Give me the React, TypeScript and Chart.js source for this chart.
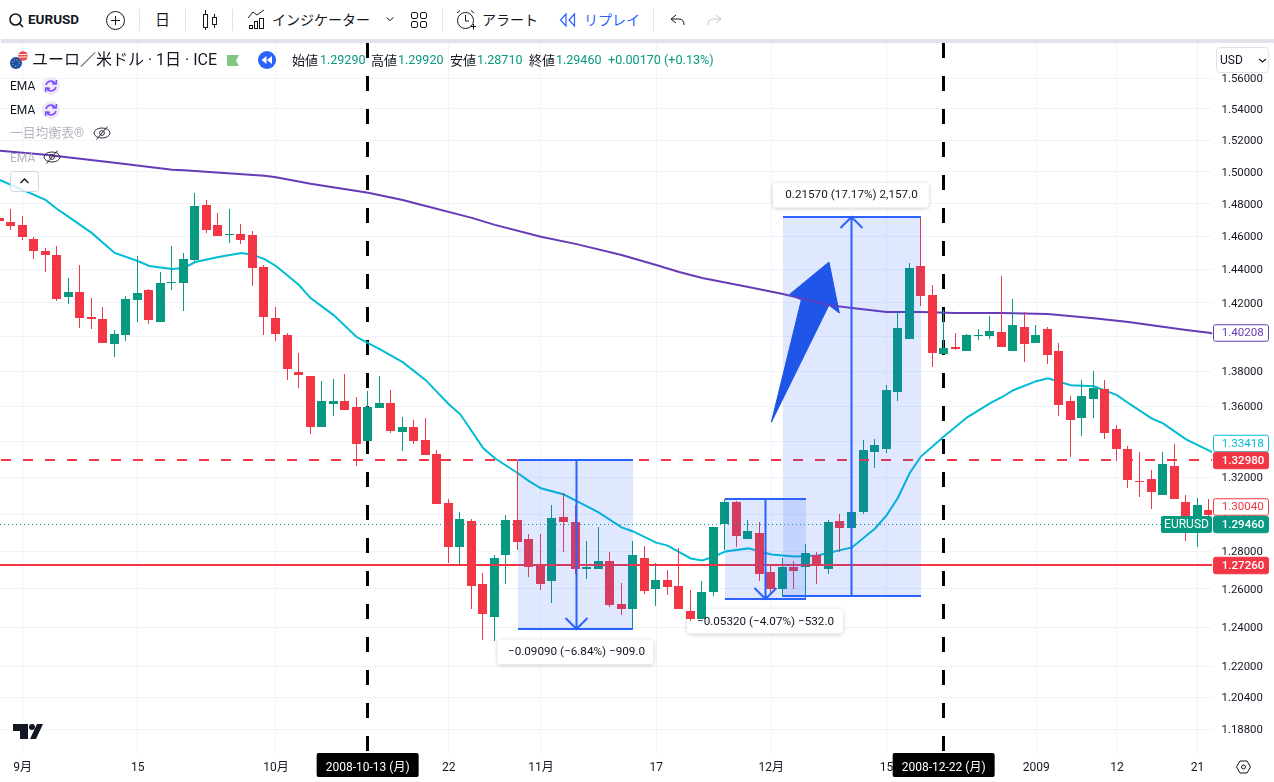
import React, { useEffect, useRef } from "react";
import { Chart, registerables } from "chart.js";

Chart.register(...registerables);

// ---------- data ----------
const opens = [1.4714,1.4689,1.4671,1.4585,1.4512,1.4488,1.4235,1.4265,1.4116,1.4104,1.3958,1.4010,1.4217,1.4277,1.4087,1.4319,1.4319,1.4457,1.4794,1.4671,1.4610,1.4616,1.4610,1.4415,1.4110,1.4010,1.3795,1.3772,1.3481,1.3611,1.3628,1.3594,1.3402,1.3588,1.3617,1.3452,1.3481,1.3407,1.3329,1.3058,1.2820,1.2960,1.2623,1.2455,1.2777,1.2966,1.2863,1.2723,1.2639,1.2982,1.2955,1.2707,1.2707,1.2745,1.2522,1.2496,1.2766,1.2601,1.2649,1.2617,1.2486,1.2444,1.2581,1.2949,1.3064,1.2868,1.2900,1.2691,1.2601,1.2713,1.2713,1.2777,1.2707,1.2960,1.2922,1.3014,1.3340,1.3357,1.3680,1.3987,1.4421,1.4247,1.3899,1.3940,1.3917,1.4005,1.4005,1.4028,1.3917,1.4058,1.3964,1.4046,1.3917,1.3628,1.3531,1.3640,1.3697,1.3469,1.3357,1.3179,1.3190,1.3102,1.3262,1.3064,1.2982,1.3020];
const highs = [1.4720,1.4769,1.4726,1.4598,1.4530,1.4542,1.4349,1.4427,1.4229,1.4175,1.4040,1.4241,1.4482,1.4283,1.4385,1.4542,1.4500,1.4869,1.4825,1.4745,1.4769,1.4677,1.4634,1.4427,1.4175,1.4022,1.3905,1.3772,1.3743,1.3754,1.3783,1.3651,1.3686,1.3772,1.3691,1.3537,1.3520,1.3531,1.3351,1.3080,1.3009,1.2976,1.2686,1.2777,1.2993,1.3296,1.2895,1.2895,1.3047,1.3113,1.3047,1.2852,1.2928,1.2798,1.2633,1.2857,1.2830,1.2739,1.2702,1.2815,1.2596,1.2639,1.2928,1.3080,1.3069,1.2966,1.2955,1.2723,1.2766,1.2750,1.2841,1.2798,1.2966,1.2998,1.3064,1.3407,1.3413,1.3720,1.4146,1.4439,1.4720,1.4307,1.4158,1.4022,1.4016,1.4046,1.4122,1.4361,1.4223,1.4146,1.4069,1.4058,1.3964,1.3657,1.3749,1.3800,1.3749,1.3492,1.3374,1.3340,1.3240,1.3340,1.3385,1.3102,1.3086,1.3080];
const lows = [1.4690,1.4640,1.4579,1.4463,1.4385,1.4211,1.4193,1.4052,1.4046,1.3962,1.3882,1.3975,1.4087,1.4075,1.4087,1.4277,1.4152,1.4451,1.4622,1.4604,1.4561,1.4555,1.4301,1.4010,1.3975,1.3749,1.3703,1.3441,1.3481,1.3543,1.3577,1.3262,1.3402,1.3588,1.3447,1.3346,1.3385,1.3323,1.3053,1.2739,1.2729,1.2496,1.2335,1.2330,1.2628,1.2804,1.2665,1.2596,1.2528,1.2793,1.2681,1.2654,1.2707,1.2507,1.2465,1.2387,1.2575,1.2512,1.2570,1.2496,1.2434,1.2444,1.2565,1.2804,1.2820,1.2863,1.2644,1.2580,1.2559,1.2601,1.2549,1.2628,1.2681,1.2798,1.2922,1.2998,1.3251,1.3335,1.3628,1.3987,1.4181,1.3824,1.3899,1.3923,1.3917,1.3981,1.3987,1.3940,1.3917,1.3853,1.3964,1.3841,1.3543,1.3312,1.3430,1.3531,1.3413,1.3290,1.3141,1.3091,1.3026,1.3102,1.3080,1.2857,1.2825,1.2933];
const closes = [1.4696,1.4665,1.4598,1.4512,1.4488,1.4223,1.4265,1.4110,1.4104,1.3964,1.4016,1.4223,1.4259,1.4099,1.4319,1.4325,1.4463,1.4788,1.4640,1.4604,1.4616,1.4579,1.4409,1.4116,1.4016,1.3812,1.3777,1.3481,1.3628,1.3628,1.3577,1.3385,1.3594,1.3617,1.3458,1.3481,1.3402,1.3323,1.3053,1.2825,1.2971,1.2617,1.2470,1.2766,1.2966,1.2847,1.2718,1.2628,1.2977,1.2955,1.2707,1.2718,1.2750,1.2517,1.2496,1.2782,1.2591,1.2649,1.2612,1.2496,1.2444,1.2586,1.2928,1.3064,1.2879,1.2906,1.2681,1.2601,1.2713,1.2697,1.2788,1.2723,1.2955,1.2922,1.3014,1.3351,1.3379,1.3691,1.4052,1.4409,1.4241,1.3905,1.3934,1.3928,1.4010,1.4010,1.4034,1.3940,1.4069,1.3958,1.4010,1.3894,1.3605,1.3520,1.3657,1.3703,1.3447,1.3357,1.3185,1.3174,1.3119,1.3273,1.3080,1.2966,1.3047,1.2993];

const fastEmaBars = [0,4,5,6,8,10,12,13,15,16,17,19,21,22,23,24,26,27,29,31,32,33,35,37,39,40,42,43,45,46,47,49,51,52,54,55,57,58,60,61,62,63,65,67,69,71,74,76,77,78,79,80,82,84,86,87,88,90,91,93,95,97,98,100,101,103,105,106];
const fastEmaValues = [1.4950,1.4825,1.4769,1.4720,1.4622,1.4500,1.4451,1.4421,1.4403,1.4409,1.4445,1.4475,1.4500,1.4488,1.4463,1.4421,1.4307,1.4229,1.4128,1.3999,1.3964,1.3929,1.3853,1.3749,1.3611,1.3554,1.3363,1.3307,1.3224,1.3179,1.3141,1.3107,1.3042,1.3009,1.2928,1.2906,1.2846,1.2830,1.2761,1.2750,1.2771,1.2798,1.2815,1.2782,1.2771,1.2777,1.2820,1.2922,1.2993,1.3091,1.3224,1.3318,1.3430,1.3537,1.3617,1.3651,1.3691,1.3743,1.3760,1.3720,1.3714,1.3663,1.3617,1.3531,1.3503,1.3413,1.3350,1.3315];
const slowEmaBars = [0,4,10,15,16,23,24,27,32,35,37,41,43,47,50,54,57,59,61,65,68,72,74,77,80,83,87,91,95,98,103,105,106];
const slowEmaValues = [1.5133,1.5107,1.5057,1.5013,1.5010,1.4975,1.4966,1.4925,1.4869,1.4825,1.4788,1.4714,1.4671,1.4598,1.4555,1.4488,1.4427,1.4385,1.4349,1.4295,1.4253,1.4187,1.4170,1.4146,1.4146,1.4140,1.4140,1.4134,1.4110,1.4087,1.4040,1.4024,1.4010];

const yTickValues = [1.56,1.54,1.52,1.5,1.48,1.46,1.44,1.42,1.4,1.38,1.36,1.34,1.32,1.3,1.28,1.26,1.24,1.22,1.204,1.188];
const xTickBars = [2,12,24,39,47,57,67,77,90,97,104];
const xTickLabels = ["9月","15","10月","22","11月","17","12月","15","2009","12","21"];

const markedBars = [32,82];
const markedLabels = ["2008-10-13 (月)","2008-12-22 (月)"];

const dashedPrice = 1.3298;
const solidPrice = 1.2726;
const lastPrice = 1.2946;

const measureStart = [45,63,68];
const measureEnd = [55,70,80];
const measureArrowBar = [50,66.45,73.9];
const measureFrom = [1.3298,1.3081,1.2563];
const measureTo = [1.2389,1.2549,1.4720];
const measureLabels = ["−0.09090 (−6.84%) −909.0","−0.05320 (−4.07%) −532.0","0.21570 (17.17%) 2,157.0"];

const bigArrowBars = [72.0,68.6,69.6,67.0,72.0,72.9];
const bigArrowPrices = [1.4445,1.4252,1.4217,1.3509,1.4187,1.4140];

const tagPrices = [1.40208,1.33418,1.3298,1.3004,1.2946,1.2726];

// ---------- styling ----------
const FONT = 'Roboto, "Noto Sans CJK JP", sans-serif';
const UP = "#089981";
const DOWN = "#f23645";
const BLUE = "#2962ff";
const TEXT = "#131722";
const GRID = "#f0f3fa";
const X_MIN = 0.0434, X_MAX = 105.25, Y_MIN = 1.17642, Y_MAX = 1.58304;

const tagStyles = [
  { fill: "#ffffff", stroke: "#673ab7", color: "#673ab7", shift: 0 },
  { fill: "#ffffff", stroke: "#00bcd4", color: "#00bcd4", shift: -8.5 },
  { fill: DOWN, stroke: DOWN, color: "#ffffff", shift: 0.5 },
  { fill: "#ffffff", stroke: DOWN, color: DOWN, shift: -6 },
  { fill: UP, stroke: UP, color: "#ffffff", shift: 0.5 },
  { fill: DOWN, stroke: DOWN, color: "#ffffff", shift: 0.5 },
];

function snapPlugin() {
  return {
    id: "snap",
    afterDatasetsUpdate(chart: any) {
      chart.data.datasets.forEach((ds: any, di: number) => {
        const meta = chart.getDatasetMeta(di);
        meta.data.forEach((el: any) => {
          if (ds.snapKind === "bar") {
            el.x = Math.floor(el.x - 0.5) + 0.5;
            el.y = Math.round(el.y);
            el.base = Math.round(el.base);
            if (el.y === el.base) el.base = el.y + 1;
          } else if (ds.snapKind === "v") {
            el.x = Math.floor(el.x) - 0.5;
          } else if (ds.snapKind === "h2") {
            el.x = Math.round(el.x);
            el.y = Math.round(el.y + 0.1);
          } else if (ds.snapKind === "h1") {
            el.x = Math.round(el.x);
            el.y = Math.floor(el.y) + 0.5;
          }
        });
      });
    },
  };
}

function roundBox(ctx: CanvasRenderingContext2D, x: number, y: number, w: number, h: number, r: number) {
  ctx.beginPath();
  ctx.roundRect(x, y, w, h, r);
}

const drawingsPlugin = {
  id: "drawings",
  beforeDatasetsDraw(chart: any) {
    const { ctx, scales } = chart;
    const sx = scales.x, sy = scales.y;
    ctx.save();
    // measurement label boxes (they lie under the candles)
    measureLabels.forEach((_, i) => {
      const cx = sx.getPixelForValue(measureArrowBar[i]);
      const up = measureTo[i] > measureFrom[i];
      const edge = sy.getPixelForValue(measureTo[i]);
      const top = up ? edge - 34 : edge + 10.5;
      ctx.save();
      ctx.shadowColor = "rgba(19,23,34,0.22)";
      ctx.shadowBlur = 4;
      ctx.shadowOffsetY = 1;
      ctx.fillStyle = "#ffffff";
      roundBox(ctx, cx - 78, top, 156, 24.5, 4);
      ctx.fill();
      ctx.restore();
    });
    // big hand-drawn arrow
    ctx.fillStyle = "#1e53e5";
    ctx.beginPath();
    bigArrowBars.forEach((b, i) => {
      const px = sx.getPixelForValue(b), py = sy.getPixelForValue(bigArrowPrices[i]);
      if (i === 0) ctx.moveTo(px, py); else ctx.lineTo(px, py);
    });
    ctx.closePath();
    ctx.fill();
    ctx.lineJoin = "round";
    ctx.strokeStyle = "#1e53e5";
    ctx.lineWidth = 1;
    ctx.stroke();
    ctx.restore();
  },
  afterDatasetsDraw(chart: any) {
    const { ctx, scales, chartArea } = chart;
    const sx = scales.x, sy = scales.y;
    ctx.save();
    ctx.beginPath();
    ctx.rect(chartArea.left, chartArea.top, chartArea.right - chartArea.left, chartArea.bottom - chartArea.top);
    ctx.clip();
    measureLabels.forEach((label, i) => {
      const x0 = Math.round(sx.getPixelForValue(measureStart[i]));
      const x1 = Math.round(sx.getPixelForValue(measureEnd[i]));
      const cx = Math.round(sx.getPixelForValue(measureArrowBar[i])) + 0.5;
      const yFrom = Math.round(sy.getPixelForValue(measureFrom[i]));
      const yTo = Math.round(sy.getPixelForValue(measureTo[i]));
      ctx.fillStyle = "rgba(41,98,255,0.15)";
      ctx.fillRect(x0, Math.min(yFrom, yTo), x1 - x0, Math.abs(yTo - yFrom));
      ctx.strokeStyle = BLUE;
      ctx.lineWidth = 2;
      ctx.beginPath();
      ctx.moveTo(x0, yFrom); ctx.lineTo(x1, yFrom);
      ctx.moveTo(x0, yTo); ctx.lineTo(x1, yTo);
      ctx.moveTo(cx, yFrom); ctx.lineTo(cx, yTo);
      const dir = yTo > yFrom ? -1 : 1;
      ctx.moveTo(cx - 11, yTo + dir * 11); ctx.lineTo(cx, yTo); ctx.lineTo(cx + 11, yTo + dir * 11);
      ctx.stroke();
      const up = measureTo[i] > measureFrom[i];
      const midY = up ? yTo - 21.8 : yTo + 22.8;
      ctx.fillStyle = TEXT;
      ctx.font = `11.7px ${FONT}`;
      ctx.textAlign = "center";
      ctx.textBaseline = "middle";
      ctx.fillText(label, cx, midY);
    });
    ctx.restore();
  },
  afterDraw(chart: any) {
    const { ctx, scales, chartArea } = chart;
    const sx = scales.x, sy = scales.y;
    ctx.save();
    ctx.font = `12px ${FONT}`;
    ctx.textBaseline = "middle";
    // time marker tags
    markedBars.forEach((b, i) => {
      const cx = sx.getPixelForValue(b) - 0.5;
      ctx.fillStyle = "#000000";
      roundBox(ctx, cx - 51, chartArea.bottom, 102, 24, 2);
      ctx.fill();
      ctx.fillStyle = "#ffffff";
      ctx.textAlign = "center";
      ctx.fillText(markedLabels[i], cx, chartArea.bottom + 14.5);
    });
    // price tags
    tagPrices.forEach((p, i) => {
      const st = tagStyles[i];
      const cy = Math.round(sy.getPixelForValue(p)) + st.shift;
      const h = 16.5;
      ctx.fillStyle = st.fill;
      ctx.strokeStyle = st.stroke;
      ctx.lineWidth = 1;
      roundBox(ctx, chartArea.right + 1.5, cy - h / 2, 55, h, 2);
      ctx.fill();
      ctx.stroke();
      ctx.fillStyle = st.color;
      ctx.textAlign = "left";
      ctx.font = `${st.color === "#ffffff" ? 500 : 400} 11.6px ${FONT}`;
      ctx.fillText(p.toFixed(5), chartArea.right + 9.7, cy + 0.5);
    });
    // symbol tag beside the last price
    const ly = Math.round(sy.getPixelForValue(lastPrice)) + 0.5;
    ctx.fillStyle = UP;
    roundBox(ctx, chartArea.right - 51, ly - 8.5, 51, 17, 2);
    ctx.fill();
    ctx.fillStyle = "#ffffff";
    ctx.textAlign = "center";
    ctx.font = `12px ${FONT}`;
    ctx.fillText("EURUSD", chartArea.right - 25.5, ly + 0.5);
    ctx.restore();
  },
};

function Txt(props: { x: number; y: number; s?: number; c?: string; w?: number; children: React.ReactNode; ls?: number }) {
  return (
    <span
      style={{
        position: "absolute",
        left: props.x,
        top: props.y,
        transform: "translateY(-50%)",
        fontSize: props.s ?? 13,
        color: props.c ?? TEXT,
        fontWeight: props.w ?? 400,
        fontFamily: FONT,
        whiteSpace: "nowrap",
        lineHeight: 1,
        letterSpacing: props.ls ?? 0,
      }}
    >
      {props.children}
    </span>
  );
}

function EyeOff({ cx, cy }: { cx: number; cy: number }) {
  return (
    <g fill="none" stroke="#2a2e39" strokeWidth="1">
      <ellipse cx={cx} cy={cy} rx="8" ry="5" />
      <circle cx={cx} cy={cy} r="2.4" />
      <line x1={cx - 5.5} y1={cy + 6.5} x2={cx + 5.5} y2={cy - 6.5} />
    </g>
  );
}

function Loop({ cx, cy }: { cx: number; cy: number }) {
  return (
    <g>
      <circle cx={cx} cy={cy} r="9" fill="#ede7f6" />
      <g fill="none" stroke="#7c4dff" strokeWidth="1.6">
        <path d={`M${cx - 5} ${cy - 1} A5.2 5.2 0 0 1 ${cx + 4} ${cy - 3}`} />
        <path d={`M${cx + 5} ${cy + 1} A5.2 5.2 0 0 1 ${cx - 4} ${cy + 3}`} />
        <path d={`M${cx + 5.5} ${cy - 6} L${cx + 5} ${cy - 2} L${cx + 1} ${cy - 2.6}`} />
        <path d={`M${cx - 5.5} ${cy + 6} L${cx - 5} ${cy + 2} L${cx - 1} ${cy + 2.6}`} />
      </g>
    </g>
  );
}

function Overlay() {
  const seps = [139.5, 185.5, 232.5, 442.5, 653.5];
  return (
    <div style={{ position: "absolute", left: 0, top: 0, width: 1274, height: 782, pointerEvents: "none" }}>
      <div style={{ position: "absolute", left: 0, top: 0, width: 1274, height: 38, background: "#ffffff" }} />
      <div style={{ position: "absolute", left: 1, top: 39, width: 1273, height: 4, background: "#e0e3eb" }} />
      <svg width="1274" height="782" style={{ position: "absolute", left: 0, top: 0 }}>
        {seps.map((x) => (
          <line key={x} x1={x} x2={x} y1="9" y2="31" stroke="#e0e3eb" />
        ))}
        {/* search */}
        <g fill="none" stroke={TEXT} strokeWidth="1.6">
          <circle cx="15.5" cy="19.5" r="5.5" />
          <line x1="19.5" y1="23.5" x2="23" y2="27" />
        </g>
        {/* add */}
        <g fill="none" stroke={TEXT} strokeWidth="1">
          <circle cx="115.5" cy="20.5" r="9" />
          <path d="M111 20.5H120M115.5 16V25" />
        </g>
        {/* candles */}
        <g fill="none" stroke={TEXT} strokeWidth="1">
          <rect x="203.5" y="14.5" width="4" height="13" />
          <path d="M205.5 10V14.5M205.5 27.5V30" />
          <rect x="212.5" y="17.5" width="4" height="7" />
          <path d="M214.5 14V17.5M214.5 24.5V28" />
        </g>
        {/* indicators */}
        <g fill="none" stroke={TEXT} strokeWidth="1">
          <rect x="249.5" y="25.5" width="3" height="3" />
          <rect x="254.5" y="21.5" width="3" height="7" />
          <rect x="259.5" y="18.5" width="4" height="10" />
          <path d="M248 18L253 12L257 15L264 10" />
        </g>
        {/* chevron */}
        <path d="M386.5 17.5L390 20.5L393.5 17.5" fill="none" stroke={TEXT} />
        {/* layouts */}
        <g fill="none" stroke={TEXT} strokeWidth="1">
          <rect x="411.5" y="12.5" width="6" height="6" rx="1.5" />
          <rect x="420.5" y="12.5" width="6" height="6" rx="1.5" />
          <rect x="411.5" y="21.5" width="6" height="6" rx="1.5" />
          <rect x="420.5" y="21.5" width="6" height="6" rx="1.5" />
        </g>
        {/* alert */}
        <g fill="none" stroke={TEXT} strokeWidth="1">
          <circle cx="465.5" cy="20.5" r="8" />
          <path d="M465.5 15V21H469M457 13L460 10.5M474 13L471 10.5M471 26.5H476M473.5 24V29.5" />
        </g>
        {/* replay */}
        <g fill="none" stroke={BLUE} strokeWidth="1.2">
          <path d="M566 14L560.5 20L566 26Z" />
          <path d="M574.5 14L569 20L574.5 26Z" />
        </g>
        {/* undo redo */}
        <path d="M671 19L676 15M671 19L676 23M671 19H679Q684 19 684 25" fill="none" stroke={TEXT} strokeWidth="1" />
        <path d="M721 19L716 15M721 19L716 23M721 19H713Q708 19 708 25" fill="none" stroke="#c4c7ce" strokeWidth="1" />
        {/* symbol logo */}
        <circle cx="16" cy="63" r="6" fill="#1b4fa8" />
        <circle cx="23" cy="56" r="4.8" fill="#e94b52" />
        <path d="M19 54.5H27.5M18.8 57H27.5" stroke="#ffffff" strokeWidth="0.9" />
        <circle cx="16" cy="63" r="3.2" fill="none" stroke="#f7d94c" strokeDasharray="1 1.5" strokeWidth="0.9" />
        {/* market flag */}
        <path d="M227 55H239L236 60.5L239 66H227Z" fill="#81c784" />
        {/* replay round */}
        <circle cx="267" cy="60" r="9" fill={BLUE} />
        <path d="M266.5 56V64L261.5 60ZM272 56V64L267 60Z" fill="#ffffff" />
        <Loop cx={51} cy={86} />
        <Loop cx={51} cy={110} />
        <EyeOff cx={102} cy={133} />
        <EyeOff cx={52} cy={157} />
        {/* collapse */}
        <rect x="10.5" y="171.5" width="28" height="20" rx="3" fill="rgba(255,255,255,0.8)" stroke="#d1d4dc" />
        <path d="M20.5 183L24.5 179L28.5 183" fill="none" stroke={TEXT} strokeWidth="1.4" />
        {/* wordmark */}
        <path d="M13 724H28V739H20V731H13Z" fill={TEXT} />
        <circle cx="32" cy="727" r="3" fill={TEXT} />
        <path d="M37 724H43L36 739H30Z" fill={TEXT} />
        {/* axis settings */}
        <path d="M1236.5 767L1240 761H1247L1250.5 767L1247 773H1240Z" fill="none" stroke={TEXT} />
        <circle cx="1243.5" cy="767" r="2" fill="none" stroke={TEXT} />
      </svg>
      <Txt x={28} y={20} s={13.5} w={700}>EURUSD</Txt>
      <Txt x={155} y={20} s={15}>日</Txt>
      <Txt x={272} y={20} s={14}>インジケーター</Txt>
      <Txt x={482} y={20} s={14}>アラート</Txt>
      <Txt x={584} y={20} s={14} c={BLUE}>リプレイ</Txt>

      <Txt x={32} y={60} s={16}>ユーロ／米ドル · 1日 · ICE</Txt>
      <Txt x={292} y={60} s={13}>始値</Txt>
      <Txt x={320} y={60} s={12.5} c={UP}>1.29290</Txt>
      <Txt x={371} y={60} s={13}>高値</Txt>
      <Txt x={398} y={60} s={12.5} c={UP}>1.29920</Txt>
      <Txt x={450} y={60} s={13}>安値</Txt>
      <Txt x={477} y={60} s={12.5} c={UP}>1.28710</Txt>
      <Txt x={529} y={60} s={13}>終値</Txt>
      <Txt x={556} y={60} s={12.5} c={UP}>1.29460</Txt>
      <Txt x={608} y={60} s={12.6} c={UP}>+0.00170 (+0.13%)</Txt>

      <Txt x={10} y={86} s={12}>EMA</Txt>
      <Txt x={10} y={110} s={12}>EMA</Txt>
      <Txt x={10} y={133} s={12.8} c="#b2b5be">一目均衡表®</Txt>
      <Txt x={10} y={158} s={12} c="#b2b5be">EMA</Txt>

      <div
        style={{
          position: "absolute",
          left: 1216,
          top: 47,
          width: 53,
          height: 26,
          boxSizing: "border-box",
          background: "#fff",
          border: "1px solid #e0e3eb",
          borderRadius: 4,
        }}
      />
      <Txt x={1220} y={60} s={12}>USD</Txt>
      <svg width="10" height="6" style={{ position: "absolute", left: 1258, top: 58 }}>
        <path d="M1 1L4.5 4L8 1" fill="none" stroke={TEXT} strokeWidth="1.2" />
      </svg>
    </div>
  );
}

export default function App() {
  const ref = useRef<HTMLCanvasElement | null>(null);

  useEffect(() => {
    document.body.style.margin = "0";
    document.body.style.background = "#ffffff";
    const colors = opens.map((o, i) => (closes[i] >= o ? UP : DOWN));
    const horizontal = (price: number, color: string, dash: number[], offset: number, width: number, kind: string) => ({
      type: "line",
      data: [{ x: X_MIN - 1, y: price }, { x: X_MAX + 1, y: price }],
      borderColor: color,
      borderWidth: width,
      borderDash: dash,
      borderDashOffset: offset,
      pointRadius: 0,
      order: 1,
      snapKind: kind,
    });
    const vertical = (bar: number) => ({
      type: "line",
      data: [{ x: bar, y: Y_MAX }, { x: bar, y: Y_MIN }],
      borderColor: "#000000",
      borderWidth: 3,
      borderDash: [15, 18],
      pointRadius: 0,
      order: 10,
      snapKind: "v",
    });
    const chart = new Chart(ref.current as HTMLCanvasElement, {
      type: "bar",
      data: {
        datasets: [
          ...markedBars.map(vertical),
          {
            type: "line",
            data: slowEmaBars.map((b, i) => ({ x: b, y: slowEmaValues[i] })),
            borderColor: "#673ab7",
            borderWidth: 2,
            pointRadius: 0,
            order: 8,
          },
          {
            type: "line",
            data: fastEmaBars.map((b, i) => ({ x: b, y: fastEmaValues[i] })),
            borderColor: "#00bcd4",
            borderWidth: 2,
            pointRadius: 0,
            order: 7,
          },
          {
            type: "bar",
            data: opens.map((_, i) => ({ x: i, y: [lows[i], highs[i]] })),
            backgroundColor: colors,
            barThickness: 1,
            grouped: false,
            inflateAmount: 0,
            minBarLength: 1,
            order: 5,
            snapKind: "bar",
          },
          {
            type: "bar",
            data: opens.map((o, i) => ({ x: i, y: [o, closes[i]] })),
            backgroundColor: colors,
            barThickness: 9,
            grouped: false,
            inflateAmount: 0,
            minBarLength: 1,
            order: 4,
            snapKind: "bar",
          },
          horizontal(lastPrice, UP, [1, 3], 0, 1, "h1"),
          horizontal(dashedPrice, DOWN, [10, 12], 9, 2, "h2"),
          horizontal(solidPrice, DOWN, [], 0, 2, "h2"),
        ] as any,
      },
      options: {
        responsive: false,
        animation: false,
        devicePixelRatio: 1,
        layout: { padding: { top: 43, left: 0, right: 0, bottom: 0 } },
        plugins: { legend: { display: false }, tooltip: { enabled: false } },
        events: [],
        scales: {
          x: {
            type: "linear",
            position: "bottom",
            offset: false,
            min: X_MIN,
            max: X_MAX,
            grid: { color: GRID, drawTicks: false, offset: false },
            border: { display: false },
            afterBuildTicks: (s: any) => {
              s.ticks = xTickBars.map((v) => ({ value: v }));
            },
            afterFit: (s: any) => {
              s.height = 29;
            },
            ticks: {
              autoSkip: false,
              maxRotation: 0,
              minRotation: 0,
              padding: 8,
              color: TEXT,
              font: { family: FONT, size: 12 },
              callback: (_v: any, i: number) => xTickLabels[i],
            },
          },
          y: {
            type: "logarithmic",
            position: "right",
            min: Y_MIN,
            max: Y_MAX,
            grid: { color: GRID, drawTicks: false },
            border: { display: false },
            afterBuildTicks: (s: any) => {
              s.ticks = yTickValues.map((v) => ({ value: v }));
            },
            afterFit: (s: any) => {
              s.width = 62;
              if (!s.__labelsNudged) {
                s.__labelsNudged = true;
                const compute = s._computeLabelItems.bind(s);
                s._computeLabelItems = (area: any) => {
                  const items = compute(area);
                  items.forEach((it: any) => {
                    it.options.translation[1] += 1;
                  });
                  return items;
                };
              }
            },
            ticks: {
              autoSkip: false,
              padding: 9.5,
              color: TEXT,
              font: { family: FONT, size: 11.4 },
              callback: (v: any) => Number(v).toFixed(5),
            },
          },
        },
      } as any,
      plugins: [snapPlugin(), drawingsPlugin] as any,
    });
    return () => chart.destroy();
  }, []);

  return (
    <div style={{ position: "absolute", left: 0, top: 0, width: 1274, height: 782, overflow: "hidden", background: "#fff" }}>
      <canvas ref={ref} width={1274} height={782} style={{ position: "absolute", left: 0, top: 0, display: "block" }} />
      <Overlay />
    </div>
  );
}
